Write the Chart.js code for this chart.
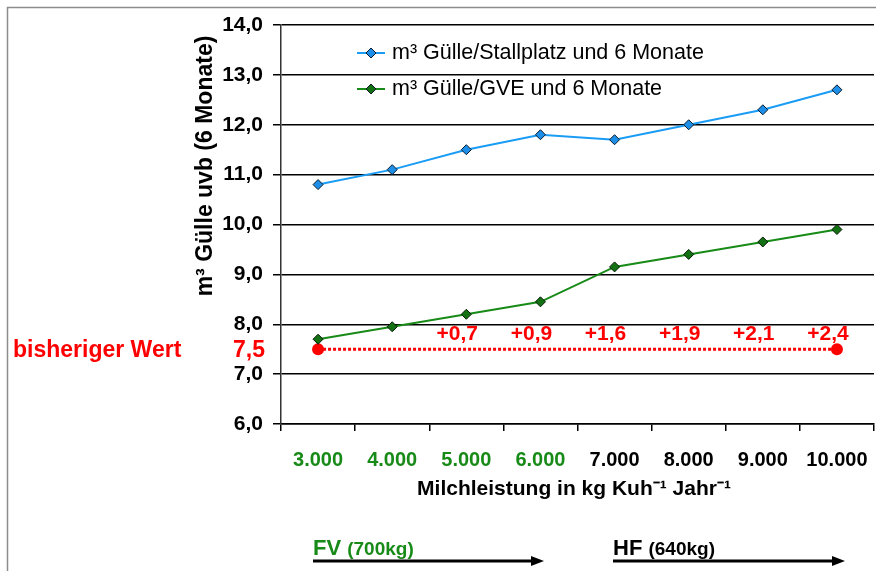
<!DOCTYPE html>
<html>
<head>
<meta charset="utf-8">
<script src="https://cdn.jsdelivr.net/npm/chart.js@4.4.1/dist/chart.umd.min.js"></script>
<style>
  html, body { margin: 0; padding: 0; background: #fff; }
  #wrap { width: 876px; height: 571px; }
</style>
</head>
<body>
<div id="wrap"><canvas id="chart" width="876" height="571"></canvas></div>
<script>
// data
const categories = ['3.000', '4.000', '5.000', '6.000', '7.000', '8.000', '9.000', '10.000'];
const perStall = [10.8, 11.1, 11.5, 11.8, 11.7, 12.0, 12.3, 12.7];
const perGve = [7.7, 7.95, 8.2, 8.45, 9.15, 9.4, 9.65, 9.9];
const baseline = [7.5, 7.5, 7.5, 7.5, 7.5, 7.5, 7.5, 7.5];
const diffLabels = ['', '', '+0,7', '+0,9', '+1,6', '+1,9', '+2,1', '+2,4'];
const seriesNames = ['m³ Gülle/Stallplatz und 6 Monate', 'm³ Gülle/GVE und 6 Monate'];

const FONT = '"Liberation Sans", Arial, sans-serif';
const BLUE = '#1a9cf5';
const GREEN = '#178a17';
const RED = '#ff0000';

function diamond(ctx, cx, cy, r, fill) {
  ctx.beginPath();
  ctx.moveTo(cx, cy - r);
  ctx.lineTo(cx + r, cy);
  ctx.lineTo(cx, cy + r);
  ctx.lineTo(cx - r, cy);
  ctx.closePath();
  ctx.fillStyle = fill;
  ctx.fill();
  ctx.strokeStyle = '#0a1a2a';
  ctx.lineWidth = 1;
  ctx.stroke();
}

function arrow(ctx, x1, x2, yy) {
  ctx.strokeStyle = '#000';
  ctx.lineWidth = 3;
  ctx.beginPath();
  ctx.moveTo(x1, yy);
  ctx.lineTo(x2 - 10, yy);
  ctx.stroke();
  ctx.fillStyle = '#000';
  ctx.beginPath();
  ctx.moveTo(x2, yy);
  ctx.lineTo(x2 - 13, yy - 5);
  ctx.lineTo(x2 - 13, yy + 5);
  ctx.closePath();
  ctx.fill();
}

const extras = {
  id: 'extras',
  afterDraw(chart) {
    const { ctx } = chart;
    const x = chart.scales.x;
    const y = chart.scales.y;
    ctx.save();

    // outer frame
    ctx.strokeStyle = '#8c8c8c';
    ctx.lineWidth = 1.5;
    ctx.beginPath();
    ctx.moveTo(7.5, 571);
    ctx.lineTo(7.5, 7.5);
    ctx.lineTo(876, 7.5);
    ctx.stroke();

    // y title
    ctx.save();
    ctx.translate(206, 166);
    ctx.rotate(-Math.PI / 2);
    ctx.font = `bold 23px ${FONT}`;
    ctx.textAlign = 'center';
    ctx.textBaseline = 'middle';
    ctx.fillStyle = '#000';
    ctx.fillText('m³ Gülle uvb (6 Monate)', 0, 0);
    ctx.restore();

    // x title
    ctx.font = `bold 21px ${FONT}`;
    ctx.textAlign = 'center';
    ctx.textBaseline = 'middle';
    ctx.fillStyle = '#000';
    ctx.fillText('Milchleistung in kg Kuh⁻¹ Jahr⁻¹', 574, 489);

    // baseline annotation
    const yb = y.getPixelForValue(7.5);
    ctx.fillStyle = RED;
    ctx.textAlign = 'left';
    ctx.font = `bold 23px ${FONT}`;
    ctx.fillText('bisheriger Wert', 13, yb + 1);
    ctx.textAlign = 'right';
    ctx.font = `bold 23px ${FONT}`;
    ctx.fillText('7,5', 265, yb + 1);

    ctx.textAlign = 'center';
    ctx.font = `bold 21px ${FONT}`;
    diffLabels.forEach((t, i) => {
      if (t) ctx.fillText(t, x.getPixelForValue(i) - 9, yb - 15);
    });

    // legend
    const ds = chart.data.datasets;
    [53, 89].forEach((ly, i) => {
      ctx.strokeStyle = ds[i].borderColor;
      ctx.lineWidth = 2;
      ctx.beginPath();
      ctx.moveTo(357, ly);
      ctx.lineTo(385, ly);
      ctx.stroke();
      diamond(ctx, 371, ly, 5, ds[i].pointBackgroundColor);
      ctx.fillStyle = '#000';
      ctx.font = `21.5px ${FONT}`;
      ctx.textAlign = 'left';
      ctx.textBaseline = 'middle';
      ctx.fillText(seriesNames[i], 392, ly);
    });

    // breed arrows
    ctx.textBaseline = 'alphabetic';
    ctx.textAlign = 'left';
    ctx.fillStyle = GREEN;
    ctx.font = `bold 22px ${FONT}`;
    ctx.fillText('FV', 313, 555);
    let w = ctx.measureText('FV ').width;
    ctx.font = `bold 19px ${FONT}`;
    ctx.fillText('(700kg)', 313 + w, 555);
    arrow(ctx, 313, 544, 561);

    ctx.fillStyle = '#000';
    ctx.font = `bold 22px ${FONT}`;
    ctx.fillText('HF', 613, 555);
    w = ctx.measureText('HF ').width;
    ctx.font = `bold 19px ${FONT}`;
    ctx.fillText('(640kg)', 613 + w, 555);
    arrow(ctx, 613, 845, 561);

    ctx.restore();
  }
};

new Chart(document.getElementById('chart'), {
  type: 'line',
  data: {
    labels: categories,
    datasets: [
      {
        label: seriesNames[0],
        data: perStall,
        borderColor: BLUE,
        borderWidth: 2,
        pointStyle: 'rectRot',
        pointRadius: 5,
        pointBackgroundColor: '#1e8fe8',
        pointBorderColor: '#0a1a2a',
        pointBorderWidth: 1,
        tension: 0,
      },
      {
        label: seriesNames[1],
        data: perGve,
        borderColor: GREEN,
        borderWidth: 2,
        pointStyle: 'rectRot',
        pointRadius: 5,
        pointBackgroundColor: '#137013',
        pointBorderColor: '#061a06',
        pointBorderWidth: 1,
        tension: 0,
      },
      {
        label: 'bisheriger Wert',
        data: baseline,
        borderColor: RED,
        borderWidth: 3,
        borderDash: [3, 2],
        pointStyle: 'circle',
        pointRadius: baseline.map((v, i) => (i === 0 || i === baseline.length - 1 ? 6 : 0)),
        pointBackgroundColor: RED,
        pointBorderColor: RED,
        pointBorderWidth: 0,
      },
    ],
  },
  options: {
    responsive: false,
    animation: false,
    events: [],
    layout: { autoPadding: false, padding: { top: 25, right: 2, left: 0, bottom: 0 } },
    plugins: {
      legend: { display: false },
      tooltip: { enabled: false },
    },
    scales: {
      x: {
        type: 'category',
        offset: true,
        afterFit(scale) {
          scale.height = 147;
          scale.paddingLeft = 0;
          scale.paddingRight = 0;
        },
        grid: {
          offset: true,
          drawOnChartArea: false,
          color: '#000',
          lineWidth: 1.5,
          tickLength: 7,
        },
        border: { color: '#000', width: 1.5 },
        ticks: {
          padding: 17,
          maxRotation: 0,
          font: { family: FONT, size: 20, weight: 'bold' },
          color: (c) => (c.index < 4 ? GREEN : '#000'),
        },
      },
      y: {
        min: 6,
        max: 14,
        afterFit(scale) {
          scale.width = 281;
          scale.paddingTop = 0;
          scale.paddingBottom = 0;
        },
        grid: {
          color: '#000',
          lineWidth: 1.5,
          tickLength: 8,
        },
        border: { color: '#333', width: 1.5 },
        ticks: {
          stepSize: 1,
          padding: 10,
          font: { family: FONT, size: 21, weight: 'bold' },
          color: '#000',
          callback: (v) => v.toFixed(1).replace('.', ','),
        },
      },
    },
  },
  plugins: [extras],
});
</script>
</body>
</html>
